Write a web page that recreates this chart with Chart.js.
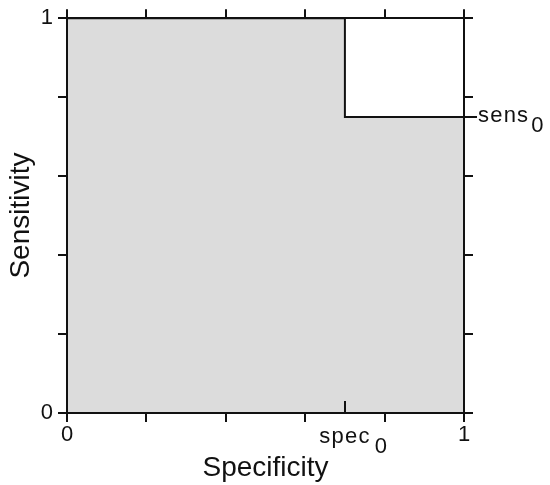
<!DOCTYPE html>
<html lang="en">
<head>
  <meta charset="UTF-8">
  <title>Sensitivity vs Specificity</title>
  <script src="https://cdn.jsdelivr.net/npm/chart.js"></script>
  <style>
    body { margin: 0; background: #fff; }
    #wrap { width: 550px; height: 485px; position: relative; }
  </style>
</head>
<body>
  <div id="wrap"><canvas id="rocChart"></canvas></div>

  <script>
    // cut-off point
    const specZero = 0.7;
    const sensZero = 0.75;

    // outline of the grey region (step line)
    const specValues = [0, specZero, specZero, 1];
    const sensValues = [1, 1, sensZero, sensZero];

    const axisTicks = [0, 0.2, 0.4, 0.6, 0.8, 1];
    const edgeLabels = { 0: '0', 1: '1' };
    const specLabel = 'spec';
    const sensLabel = 'sens';
    const subLabel = '0';

    const ink = '#111';
    const fontFamily = '"Liberation Sans", Arial, sans-serif';
    Chart.defaults.font.family = fontFamily;
    Chart.defaults.color = ink;

    function axis(position, size, extra) {
      return Object.assign({
        type: 'linear',
        position: position,
        min: 0,
        max: 1,
        afterBuildTicks: s => { s.ticks = axisTicks.map(v => ({ value: v })); },
        afterFit: s => {
          if (s.isHorizontal()) s.height = size;
          else s.width = size;
        },
        // draw axes above the grey fill
        border: { display: true, color: ink, width: 2, z: 1 },
        grid: {
          drawOnChartArea: false,
          color: ink,
          lineWidth: 2,
          tickLength: 9,
          tickWidth: 2,
          z: 1
        },
        ticks: { display: false }
      }, extra);
    }

    const labelTicks = {
      display: true,
      autoSkip: false,
      maxRotation: 0,
      font: { size: 22 },
      color: ink,
      callback: v => edgeLabels[v] ?? ''
    };

    // spec0 inner tick, sens0 line extension and the subscript labels
    const markPlugin = {
      id: 'marks',
      afterDraw(chart) {
        const ctx = chart.ctx;
        const xs = chart.scales.x, ys = chart.scales.y;
        const px = Math.round(xs.getPixelForValue(specZero));
        const py = Math.round(ys.getPixelForValue(sensZero));
        const right = xs.getPixelForValue(1);
        const bottom = ys.getPixelForValue(0);

        ctx.save();
        ctx.strokeStyle = ink;
        ctx.lineWidth = 2;
        ctx.beginPath();
        ctx.moveTo(px, bottom);
        ctx.lineTo(px, bottom - 12);
        ctx.moveTo(right, py);
        ctx.lineTo(right + 13, py);
        ctx.stroke();

        ctx.fillStyle = ink;
        ctx.font = '22px ' + fontFamily;
        ctx.letterSpacing = '1.2px';
        ctx.textBaseline = 'alphabetic';
        ctx.textAlign = 'center';
        ctx.fillText(specLabel, px, bottom + 30);
        const w = ctx.measureText(specLabel).width;
        ctx.textAlign = 'left';
        ctx.fillText(subLabel, px + w / 2 + 4, bottom + 40);
        ctx.fillText(sensLabel, right + 14, py + 5);
        const w2 = ctx.measureText(sensLabel).width;
        ctx.fillText(subLabel, right + 14 + w2 + 2, py + 15);
        ctx.restore();
      }
    };

    const ctx = document.getElementById('rocChart').getContext('2d');
    new Chart(ctx, {
      type: 'line',
      data: {
        datasets: [{
          data: specValues.map((x, i) => ({ x: x, y: sensValues[i] })),
          borderColor: ink,
          borderWidth: 2,
          backgroundColor: '#dcdcdc',
          fill: 'origin',
          pointRadius: 0,
          tension: 0
        }]
      },
      options: {
        responsive: true,
        maintainAspectRatio: false,
        animation: false,
        layout: { padding: 0 },
        plugins: {
          legend: { display: false },
          tooltip: { enabled: false }
        },
        scales: {
          x: axis('bottom', 72, {
            ticks: Object.assign({}, labelTicks, { padding: 0 }),
            title: {
              display: true,
              text: 'Specificity',
              color: ink,
              font: { size: 28 },
              padding: 0
            }
          }),
          xTop: axis('top', 16),
          y: axis('left', 67, {
            ticks: Object.assign({}, labelTicks, { padding: 5 }),
            title: {
              display: true,
              text: 'Sensitivity',
              color: ink,
              font: { size: 28 },
              padding: { top: 4, bottom: 0 }
            }
          }),
          yRight: axis('right', 86)
        }
      },
      plugins: [markPlugin]
    });
  </script>
</body>
</html>
